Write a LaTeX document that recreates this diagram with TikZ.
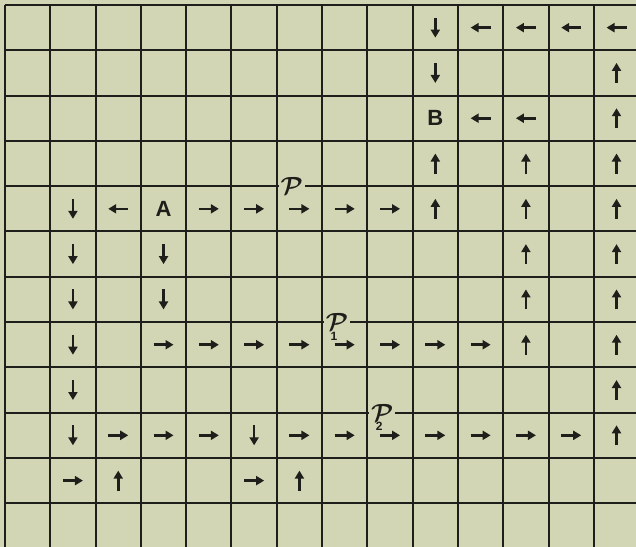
\documentclass[tikz,border=0pt]{standalone}
\usepackage{fontspec}
\newfontfamily\gridfont{Liberation Sans}
\usetikzlibrary{arrows.meta}
\definecolor{paper}{RGB}{211,214,180}
\definecolor{ink}{RGB}{30,30,26}
\tikzset{
	gridline/.style={ink, line width=2pt},
	cellarrow/.style={ink, line width=2.6pt, -{Triangle[length=8pt,width=9pt]}},
	cellletter/.style={ink, font=\gridfont\bfseries\fontsize{22}{22}\selectfont},
	pathlabel/.style={ink, fill=paper, inner sep=2pt, font=\boldmath\fontsize{25}{25}\selectfont},
	pathindex/.style={ink, inner sep=0pt, font=\gridfont\bfseries\fontsize{12}{12}\selectfont}
}
\begin{document}
\begin{tikzpicture}[x=45.3pt, y=-45.3pt]
		% Paper and grid
		\fill[paper] (-0.11,-0.11) rectangle (13.93,11.965);
		\useasboundingbox (-0.11,-0.11) rectangle (13.93,11.965);
		\foreach \c in {0,...,13} \draw[gridline] (\c,0) -- (\c,11.965);
		\foreach \r in {0,...,11} \draw[gridline] (0,\r) -- (13.93,\r);
		\foreach \c in {0,...,13} \foreach \r in {0,...,11} \coordinate (c\c-\r) at (\c+0.5,\r+0.5);
		
		% Define nodes
		\node[cellletter] (a) at (c3-4) {A}; \node[cellletter] (b) at (c9-2) {B};
		\node[pathlabel] (p0) at (6.33,4) {$\mathcal{P}$}; \node[pathlabel,
		label={[pathindex, xshift=-3pt, yshift=1pt]below:1}] (p1) at (7.33,7) {$\mathcal{P}$};
		\node[pathlabel, label={[pathindex, xshift=-3pt, yshift=1pt]below:2}] (p2) at
		(8.33,9) {$\mathcal{P}$};
		
		% Draw arrows
		\foreach \c/\r in {4/4,5/4,6/4,7/4,8/4, 3/7,4/7,5/7,6/7,7/7,8/7,9/7,10/7,
			2/9,3/9,4/9,6/9,7/9,8/9,9/9,10/9,11/9,12/9, 1/10,5/10}
		\draw[cellarrow] ([xshift=-10pt]c\c-\r) -- ([xshift=10pt]c\c-\r);
		\foreach \c/\r in {10/0,11/0,12/0,13/0, 10/2,11/2, 2/4}
		\draw[cellarrow] ([xshift=10pt]c\c-\r) -- ([xshift=-10pt]c\c-\r);
		\foreach \c/\r in {9/0,9/1, 1/4,1/5,1/6,1/7,1/8,1/9, 3/5,3/6, 5/9}
		\draw[cellarrow] ([yshift=10pt]c\c-\r) -- ([yshift=-10pt]c\c-\r);
		\foreach \c/\r in {13/1,13/2,13/3,13/4,13/5,13/6,13/7,13/8,13/9, 9/3,9/4,
			11/3,11/4,11/5,11/6,11/7, 2/10,6/10}
		\draw[cellarrow] ([yshift=-10pt]c\c-\r) -- ([yshift=10pt]c\c-\r);
	\end{tikzpicture}
\end{document}
